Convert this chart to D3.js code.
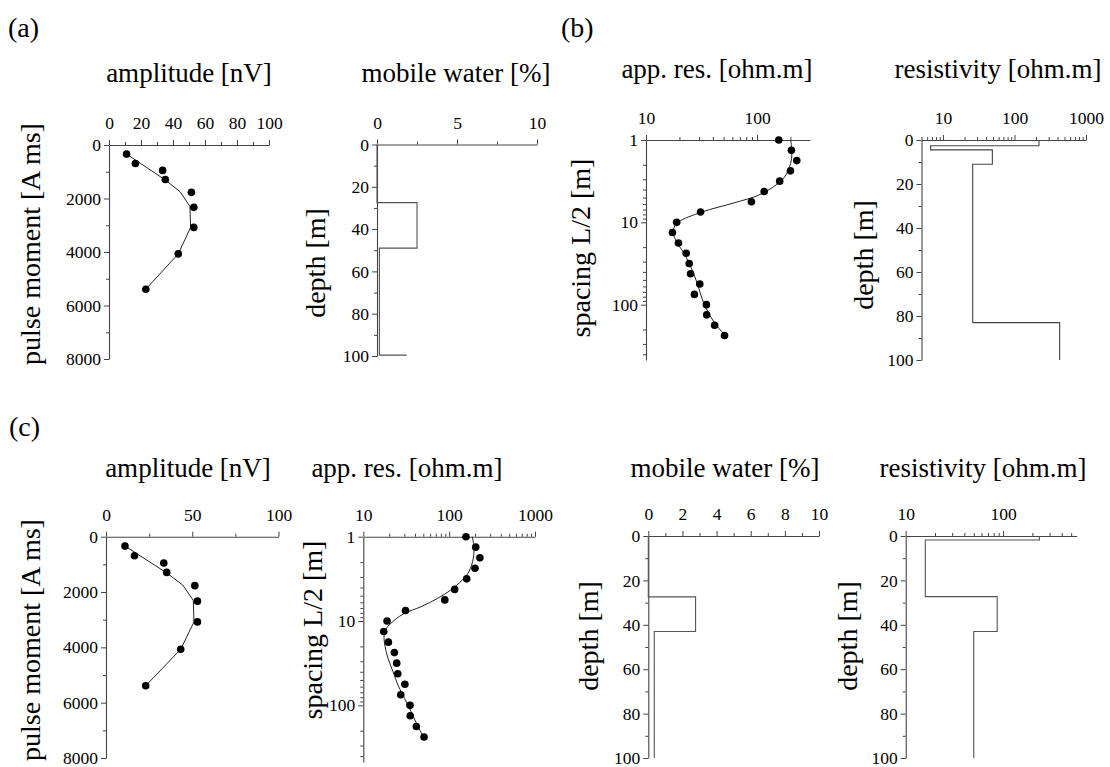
<!DOCTYPE html>
<html><head><meta charset="utf-8">
<script src="https://cdn.jsdelivr.net/npm/d3@7/dist/d3.min.js"></script>
<style>
body{margin:0;background:#fff}
svg text{font-family:"Liberation Serif","Times New Roman",serif;fill:#000}
</style></head><body>
<svg id="chart" width="1110" height="767"></svg>
<script>
// ---------- data ----------
// NMR sounding: pulse moment [A ms] vs amplitude [nV]
const pulseMoment = [340, 690, 950, 1290, 1770, 2330, 3080, 4070, 5390];
const amplitude   = [11, 16.5, 33.5, 35.2, 51.5, 53, 53, 43.3, 23];
const ampFitMoment = [340, 1300, 1750, 2300, 3080, 4070, 5390];
const ampFitValue  = [11, 35, 44.5, 50.6, 51, 43.3, 23];

// DC sounding: spacing L/2 [m] vs apparent resistivity [ohm.m]
const spacing = [1, 1.33, 1.78, 2.37, 3.16, 4.22, 5.62, 7.5, 10, 13.3, 17.8, 23.7, 31.6, 42.2, 56.2, 75, 100, 133, 178, 237];
const appRes  = [157, 204, 228, 200, 160, 116, 89, 31, 18.9, 17.3, 19.6, 23, 24.5, 25.2, 30.5, 27.3, 35, 35.2, 41.5, 51];
const fitSpacingB = [1.0, 1.26, 1.67, 2.22, 2.93, 3.71, 4.69, 5.76, 7.55, 9.9, 11.4, 13.4, 17.4, 23, 31.3, 44.3, 64.4, 93.6, 136, 180, 234];
const fitAppResB  = [201, 205, 205, 194, 173, 140, 102.8, 63.4, 31.3, 19.6, 18.0, 17.6, 18.9, 21.7, 24.4, 27.3, 30, 32.9, 37.7, 43.3, 51.5];
const fitSpacingC = [1, 1.31, 1.81, 2.6, 3.26, 4.29, 5.39, 6.76, 8.11, 9.73, 12.2, 14.7, 19.3, 27.7, 39.9, 57.4, 82.6, 119, 171, 239];
const fitAppResC  = [186, 194, 191, 170, 142.5, 104.5, 73.3, 47.1, 30.2, 23.2, 18.6, 17.5, 17.8, 19.4, 22.2, 25.3, 30.2, 36.1, 42.4, 50.5];

// layered models: layer top depth [m] and value
const waterTopA = [0, 27.5, 49, 99.6];
const waterA    = [0, 2.5, 0.15, 1.8];
const resTopB   = [0, 2.6, 4.5, 11, 83];
const resB      = [220, 6.7, 49, 26, 428];
const waterTopC = [0, 27.4, 43];
const waterC    = [0, 2.77, 0.35];
const resTopC   = [0, 1.8, 27.3, 43];
const resC      = [236, 15.9, 87, 50];

// tick values
const ampTicksA = [0, 20, 40, 60, 80, 100];
const ampMinorA = [10, 30, 50, 70, 90];
const ampTicksC = [0, 50, 100];
const ampMinorC = [25, 75];
const pmTicks   = [0, 2000, 4000, 6000, 8000];
const pmMinor   = [1000, 3000, 5000, 7000];
const waterTicksA = [0, 5, 10];
const waterMinorA = [2.5, 7.5];
const waterTicksC = [0, 2, 4, 6, 8, 10];
const waterMinorC = [1, 3, 5, 7, 9];
const depthTicks = [0, 20, 40, 60, 80, 100];
const depthMinor = [10, 30, 50, 70, 90];

// ---------- helpers ----------
const svg = d3.select("#chart");
const FONT = "'Liberation Serif', 'Times New Roman', serif";
const decadeMinor = (lo, hi) => {
  const out = [];
  for (let p = -1; p <= 3; p++) for (let m = 2; m <= 9; m++) {
    const v = m * Math.pow(10, p);
    if (v > lo * 1.0001 && v < hi * 0.9999) out.push(v);
  }
  return out;
};

function styleAxis(g) {
  g.attr("font-family", FONT).attr("font-size", 17);
  g.select(".domain").attr("stroke", "#444").attr("stroke-width", 1.1);
  g.selectAll(".tick line").attr("stroke", "#444").attr("stroke-width", 1);
  g.selectAll(".tick text").attr("fill", "#000")
    .style("font-family", FONT).style("font-size", "17.5px");
}

function panel(o) {
  const g = svg.append("g");
  const x = (o.xlog ? d3.scaleLog() : d3.scaleLinear()).domain(o.xd).range(o.xr);
  const y = (o.ylog ? d3.scaleLog() : d3.scaleLinear()).domain(o.yd).range(o.yr);

  // minor ticks
  g.append("g").attr("transform", `translate(0,${o.yr[0]})`)
    .call(d3.axisTop(x).tickValues(o.xMinor).tickFormat("").tickSizeInner(3).tickSizeOuter(0))
    .call(a => { styleAxis(a); a.select(".domain").remove(); });
  g.append("g").attr("transform", `translate(${o.xr[0]},0)`)
    .call(d3.axisLeft(y).tickValues(o.yMinor).tickFormat("").tickSizeInner(3).tickSizeOuter(0))
    .call(a => { styleAxis(a); a.select(".domain").remove(); });
  // major
  g.append("g").attr("transform", `translate(0,${o.yr[0]})`)
    .call(d3.axisTop(x).tickValues(o.xMajor).tickFormat(d => String(d)).tickSizeInner(5).tickSizeOuter(0).tickPadding(11))
    .call(styleAxis);
  g.append("g").attr("transform", `translate(${o.xr[0]},0)`)
    .call(d3.axisLeft(y).tickValues(o.yMajor).tickFormat(d => String(d)).tickSizeInner(5).tickSizeOuter(0).tickPadding(3))
    .call(styleAxis);

  // titles
  g.append("text").attr("x", o.title[1]).attr("y", o.title[2])
    .attr("text-anchor", "middle").attr("font-size", 27).text(o.title[0]);
  g.append("text").attr("transform", `translate(${o.ylab[1]},${o.ylab[2]}) rotate(-90)`)
    .attr("text-anchor", "middle").attr("font-size", 28).text(o.ylab[0]);
  return { g, x, y };
}

function drawPoints(p, xs, ys) {
  p.g.append("g").selectAll("circle").data(xs).join("circle")
    .attr("cx", (d) => p.x(d)).attr("cy", (d, i) => p.y(ys[i])).attr("r", 3.8).attr("fill", "#000");
}
function drawFit(p, xs, ys, curve) {
  const pts = xs.map((d, i) => [d, ys[i]]);
  p.g.append("path").datum(pts)
    .attr("d", d3.line().x(d => p.x(d[0])).y(d => p.y(d[1])).curve(curve || d3.curveLinear))
    .attr("fill", "none").attr("stroke", "#222").attr("stroke-width", 1);
}
function drawSteps(p, tops, vals, bottom, color) {
  const pts = [];
  vals.forEach((v, i) => {
    const b = i + 1 < tops.length ? tops[i + 1] : bottom;
    pts.push([v, tops[i]], [v, b]);
  });
  p.g.append("path").datum(pts)
    .attr("d", d3.line().x(d => p.x(d[0])).y(d => p.y(d[1])))
    .attr("fill", "none").attr("stroke", color || "#444").attr("stroke-width", 1.1);
}

// ---------- panel letters ----------
svg.append("text").attr("x", 8).attr("y", 37).attr("font-size", 28).text("(a)");
svg.append("text").attr("x", 561).attr("y", 37).attr("font-size", 28).text("(b)");
svg.append("text").attr("x", 9).attr("y", 436).attr("font-size", 28).text("(c)");

// ---------- (a) ----------
const pA1 = panel({
  xd: [0, 100], xr: [109, 269], yd: [0, 8000], yr: [145, 359],
  xMajor: ampTicksA, xMinor: ampMinorA, yMajor: pmTicks, yMinor: pmMinor,
  title: ["amplitude [nV]", 189, 82], ylab: ["pulse moment [A ms]", 40, 244]
});
drawFit(pA1, ampFitValue, ampFitMoment);
drawPoints(pA1, amplitude, pulseMoment);

const pA2 = panel({
  xd: [0, 10], xr: [377, 537], yd: [0, 100], yr: [144.5, 356],
  xMajor: waterTicksA, xMinor: waterMinorA, yMajor: depthTicks, yMinor: depthMinor,
  title: ["mobile water [%]", 456, 82], ylab: ["depth [m]", 325, 263]
});
drawSteps(pA2, waterTopA, waterA, 100, "#555");

// ---------- (b) ----------
const pB1 = panel({
  xlog: true, ylog: true,
  xd: [10, 300], xr: [646, 810], yd: [1, 470], yr: [140, 360],
  xMajor: [10, 100], xMinor: decadeMinor(10, 300), yMajor: [1, 10, 100], yMinor: decadeMinor(1, 470),
  title: ["app. res. [ohm.m]", 717, 78], ylab: ["spacing L/2 [m]", 590, 248]
});
drawFit(pB1, fitAppResB, fitSpacingB, d3.curveCatmullRom);
drawPoints(pB1, appRes, spacing);

const pB2 = panel({
  xlog: true,
  xd: [5, 1000], xr: [921.5, 1086], yd: [0, 100], yr: [140, 360],
  xMajor: [10, 100, 1000], xMinor: decadeMinor(5, 1000).concat([5]), yMajor: depthTicks, yMinor: depthMinor,
  title: ["resistivity [ohm.m]", 998, 78], ylab: ["depth [m]", 873, 255]
});
drawSteps(pB2, resTopB, resB, 100, "#444");

// ---------- (c) ----------
const pC1 = panel({
  xd: [0, 100], xr: [106, 278.5], yd: [0, 8000], yr: [536.7, 758],
  xMajor: ampTicksC, xMinor: ampMinorC, yMajor: pmTicks, yMinor: pmMinor,
  title: ["amplitude [nV]", 188, 477], ylab: ["pulse moment [A ms]", 40, 640]
});
drawFit(pC1, ampFitValue, ampFitMoment);
drawPoints(pC1, amplitude, pulseMoment);

const pC2 = panel({
  xlog: true, ylog: true,
  xd: [10, 1000], xr: [363.3, 535], yd: [1, 470], yr: [536.7, 762],
  xMajor: [10, 100, 1000], xMinor: decadeMinor(10, 1000), yMajor: [1, 10, 100], yMinor: decadeMinor(1, 470),
  title: ["app. res. [ohm.m]", 407, 477], ylab: ["spacing L/2 [m]", 322, 630]
});
drawFit(pC2, fitAppResC, fitSpacingC, d3.curveCatmullRom);
drawPoints(pC2, appRes, spacing);

const pC3 = panel({
  xd: [0, 10], xr: [648.3, 819], yd: [0, 100], yr: [536, 758],
  xMajor: waterTicksC, xMinor: waterMinorC, yMajor: depthTicks, yMinor: depthMinor,
  title: ["mobile water [%]", 725, 477], ylab: ["depth [m]", 598, 636]
});
drawSteps(pC3, waterTopC, waterC, 100, "#555");

const pC4 = panel({
  xlog: true,
  xd: [10, 570], xr: [905.7, 1076.7], yd: [0, 100], yr: [536, 758],
  xMajor: [10, 100], xMinor: decadeMinor(10, 570), yMajor: depthTicks, yMinor: depthMinor,
  title: ["resistivity [ohm.m]", 983, 477], ylab: ["depth [m]", 857, 636]
});
drawSteps(pC4, resTopC, resC, 100, "#555");
</script>
</body></html>
